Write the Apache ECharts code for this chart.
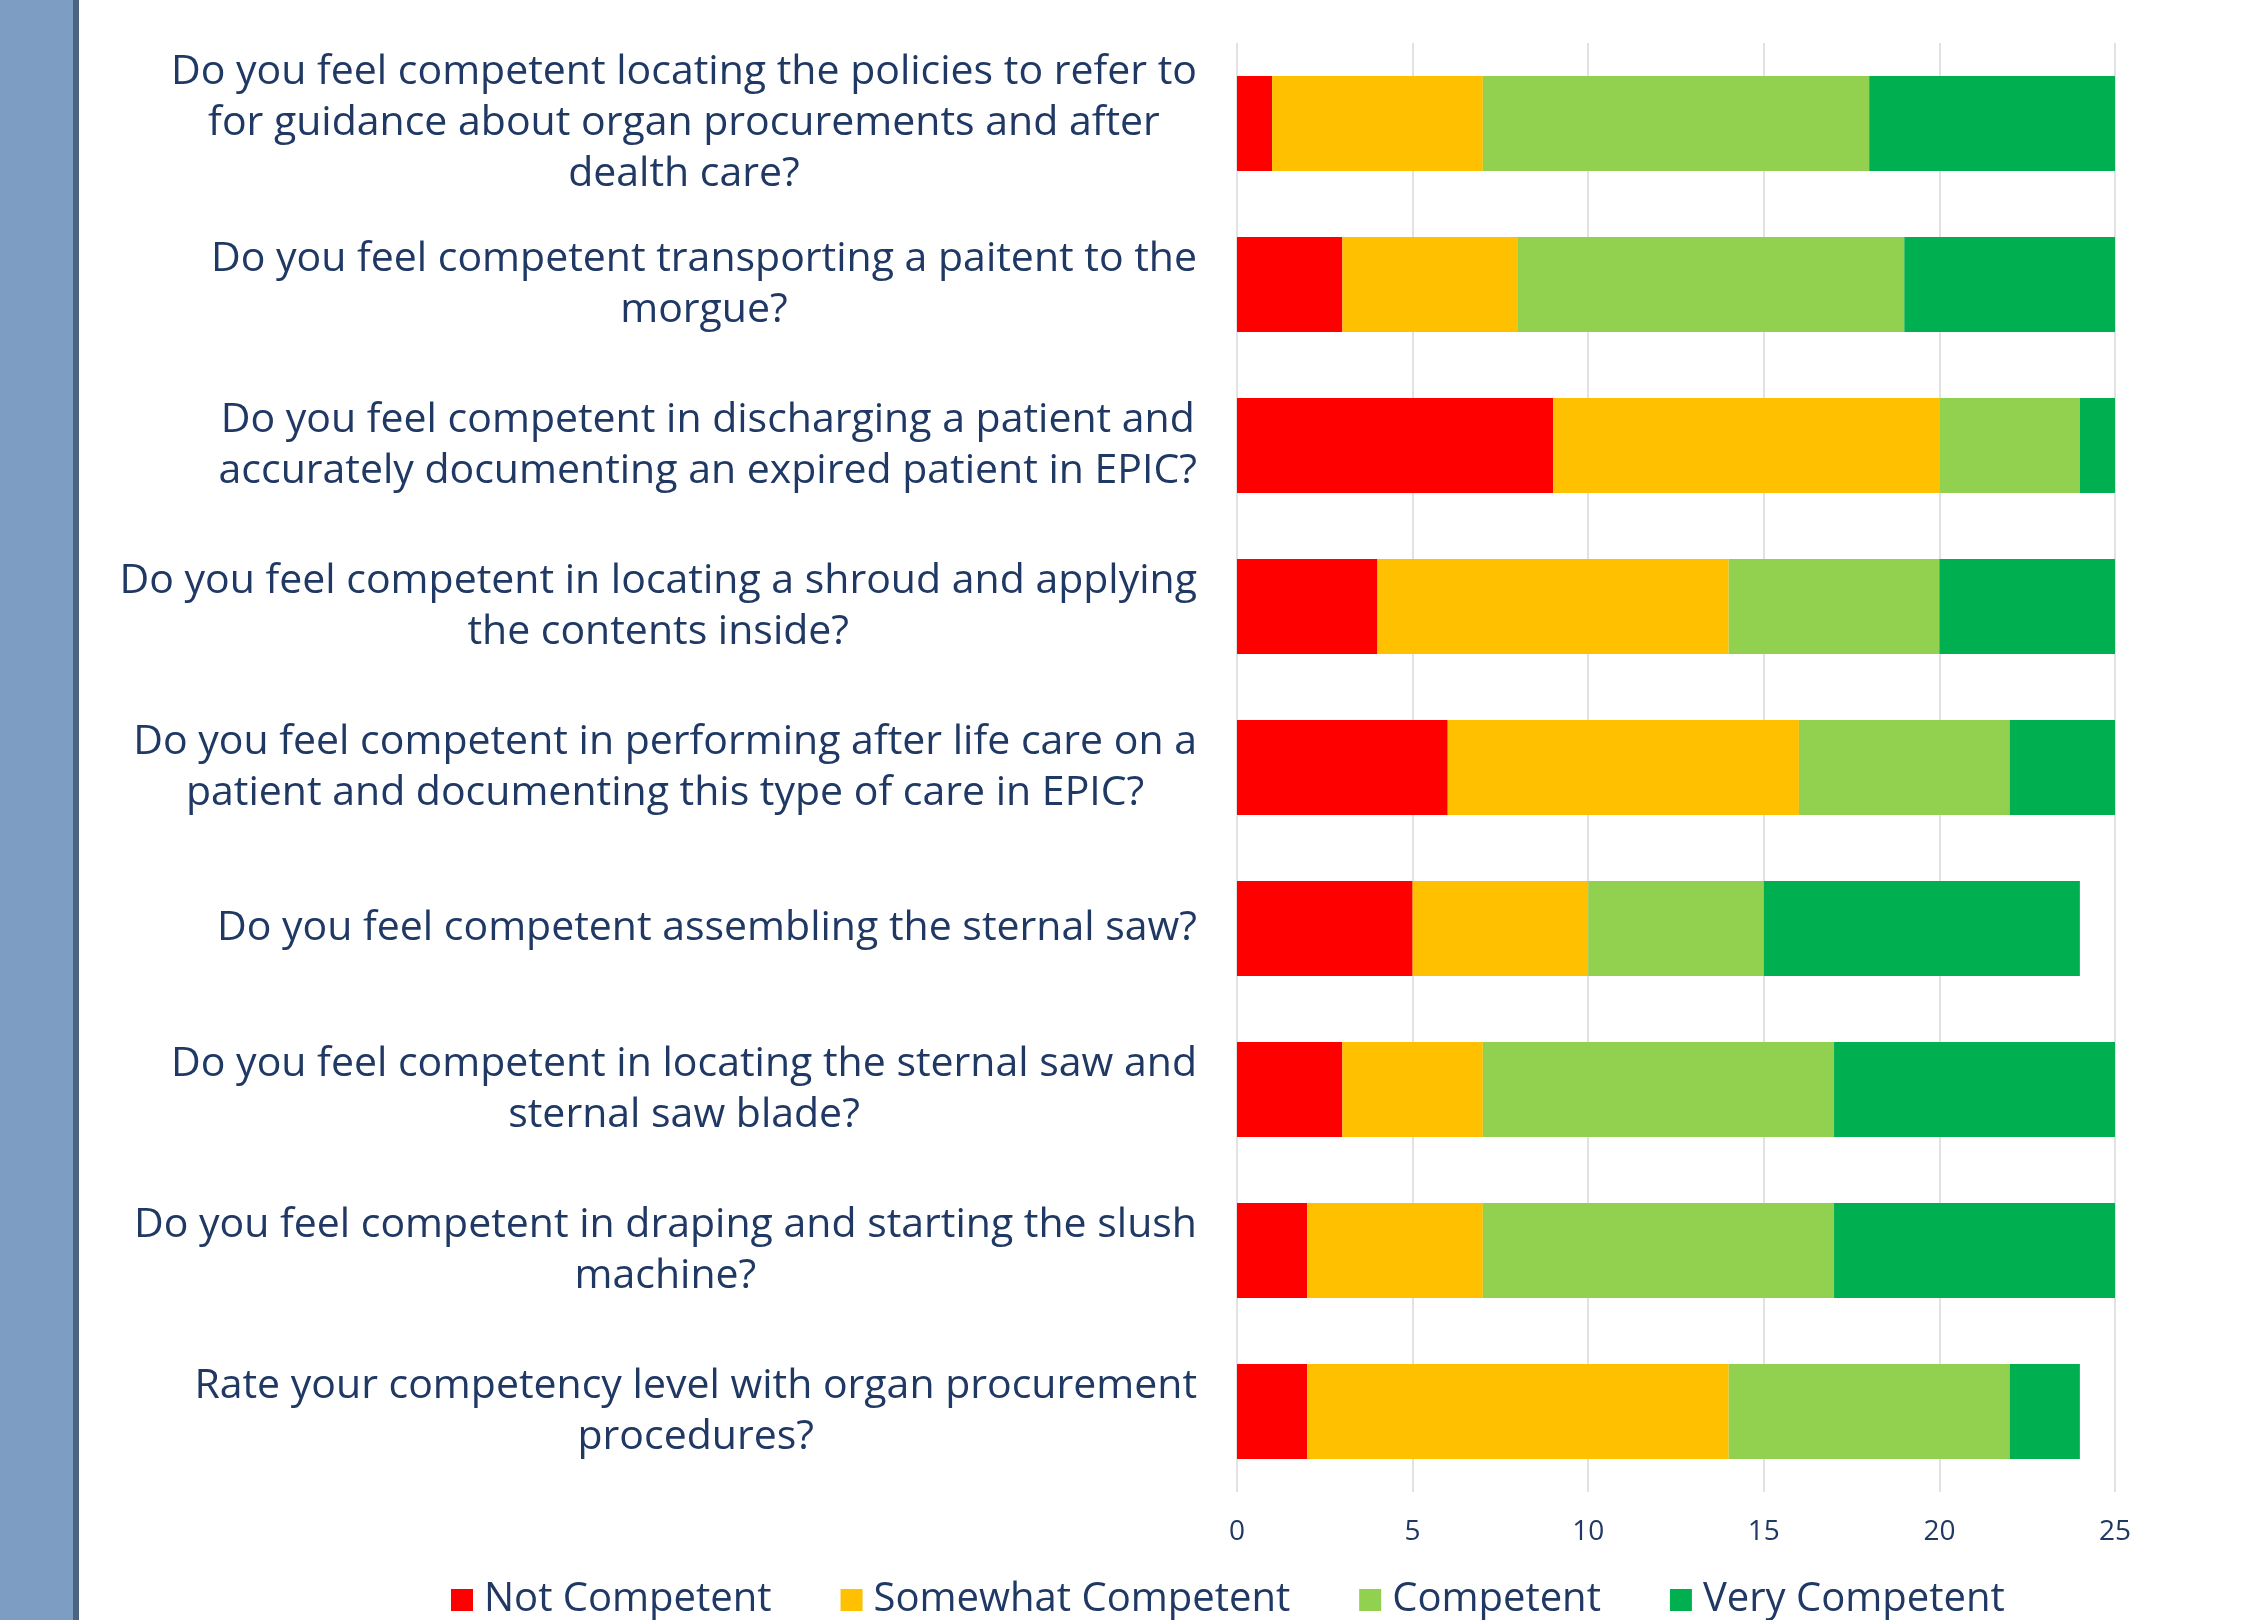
<!DOCTYPE html>
<html>
<head>
<meta charset="utf-8">
<script src="https://cdn.jsdelivr.net/npm/echarts@6/dist/echarts.min.js"></script>
<style>
  html, body { margin: 0; padding: 0; background: #ffffff; }
  #chart { width: 2251px; height: 1620px; }
</style>
</head>
<body>
<div id="chart"></div>
<script>
// questions, top to bottom (line breaks as in the original labels)
const questions = [
  "Do you feel competent locating the policies to refer to\nfor guidance about organ procurements and after\ndealth care?",
  "Do you feel competent transporting a paitent to the\nmorgue?",
  "Do you feel competent in discharging a patient and\naccurately documenting an expired patient in EPIC?",
  "Do you feel competent in locating a shroud and applying\nthe contents inside?",
  "Do you feel competent in performing after life care on a\npatient and documenting this type of care in EPIC?",
  "Do you feel competent assembling the sternal saw?",
  "Do you feel competent in locating the sternal saw and\nsternal saw blade?",
  "Do you feel competent in draping and starting the slush\nmachine?",
  "Rate your competency level with organ procurement\nprocedures?"
];

const notCompetent      = [1, 3, 9, 4, 6, 5, 3, 2, 2];
const somewhatCompetent = [6, 5, 11, 10, 10, 5, 4, 5, 12];
const competent         = [11, 11, 4, 6, 6, 5, 10, 10, 8];
const veryCompetent     = [7, 6, 1, 5, 3, 9, 8, 8, 2];

const xTicks = [0, 5, 10, 15, 20, 25];

const textColor = "#1F3864";
const fontFamily = "'Open Sans', 'DejaVu Sans', sans-serif";

const chart = echarts.init(document.getElementById("chart"));

const makeSeries = (name, data, color) => ({
  name,
  type: "bar",
  stack: "total",
  barCategoryGap: "41%",
  data,
  itemStyle: { color },
  emphasis: { disabled: true },
});

chart.setOption({
  animation: false,
  backgroundColor: "#ffffff",
  textStyle: { fontFamily },
  graphic: [
    { type: "rect", shape: { x: 0, y: 0, width: 74, height: 1620 }, style: { fill: "#7D9DC2" } },
    { type: "rect", shape: { x: 73, y: 0, width: 6, height: 1620 }, style: { fill: "#4C6480" } },
  ],
  grid: {
    left: 1237,
    right: 136,
    top: 43,
    bottom: 128,
  },
  legend: {
    left: 446,
    top: 1575,
    itemWidth: 22,
    itemHeight: 22,
    itemGap: 69,
    icon: "rect",
    textStyle: {
      color: textColor,
      fontSize: 40,
      fontFamily,
      padding: [0, 0, 0, 6],
    },
    data: ["Not Competent", "Somewhat Competent", "Competent", "Very Competent"],
  },
  xAxis: {
    type: "value",
    min: xTicks[0],
    max: xTicks[xTicks.length - 1],
    interval: 5,
    axisLine: { show: false },
    axisTick: { show: false },
    splitLine: { lineStyle: { color: "#D9D9D9", width: 1.5 } },
    axisLabel: {
      color: textColor,
      fontSize: 28,
      margin: 26,
      fontFamily,
    },
  },
  yAxis: {
    type: "category",
    inverse: true,
    data: questions,
    axisLine: { show: false },
    axisTick: { show: false },
    axisLabel: {
      margin: 40,
      align: "right",
      formatter: (v) => v.split("\n").map((l) => "{c|" + l + "}").join("\n"),
      rich: {
        c: {
          align: "center",
          color: textColor,
          fontSize: 41,
          lineHeight: 51,
          fontFamily,
        },
      },
    },
  },
  series: [
    makeSeries("Not Competent", notCompetent, "#FF0000"),
    makeSeries("Somewhat Competent", somewhatCompetent, "#FFC000"),
    makeSeries("Competent", competent, "#92D050"),
    makeSeries("Very Competent", veryCompetent, "#00B050"),
  ],
});
</script>
</body>
</html>
